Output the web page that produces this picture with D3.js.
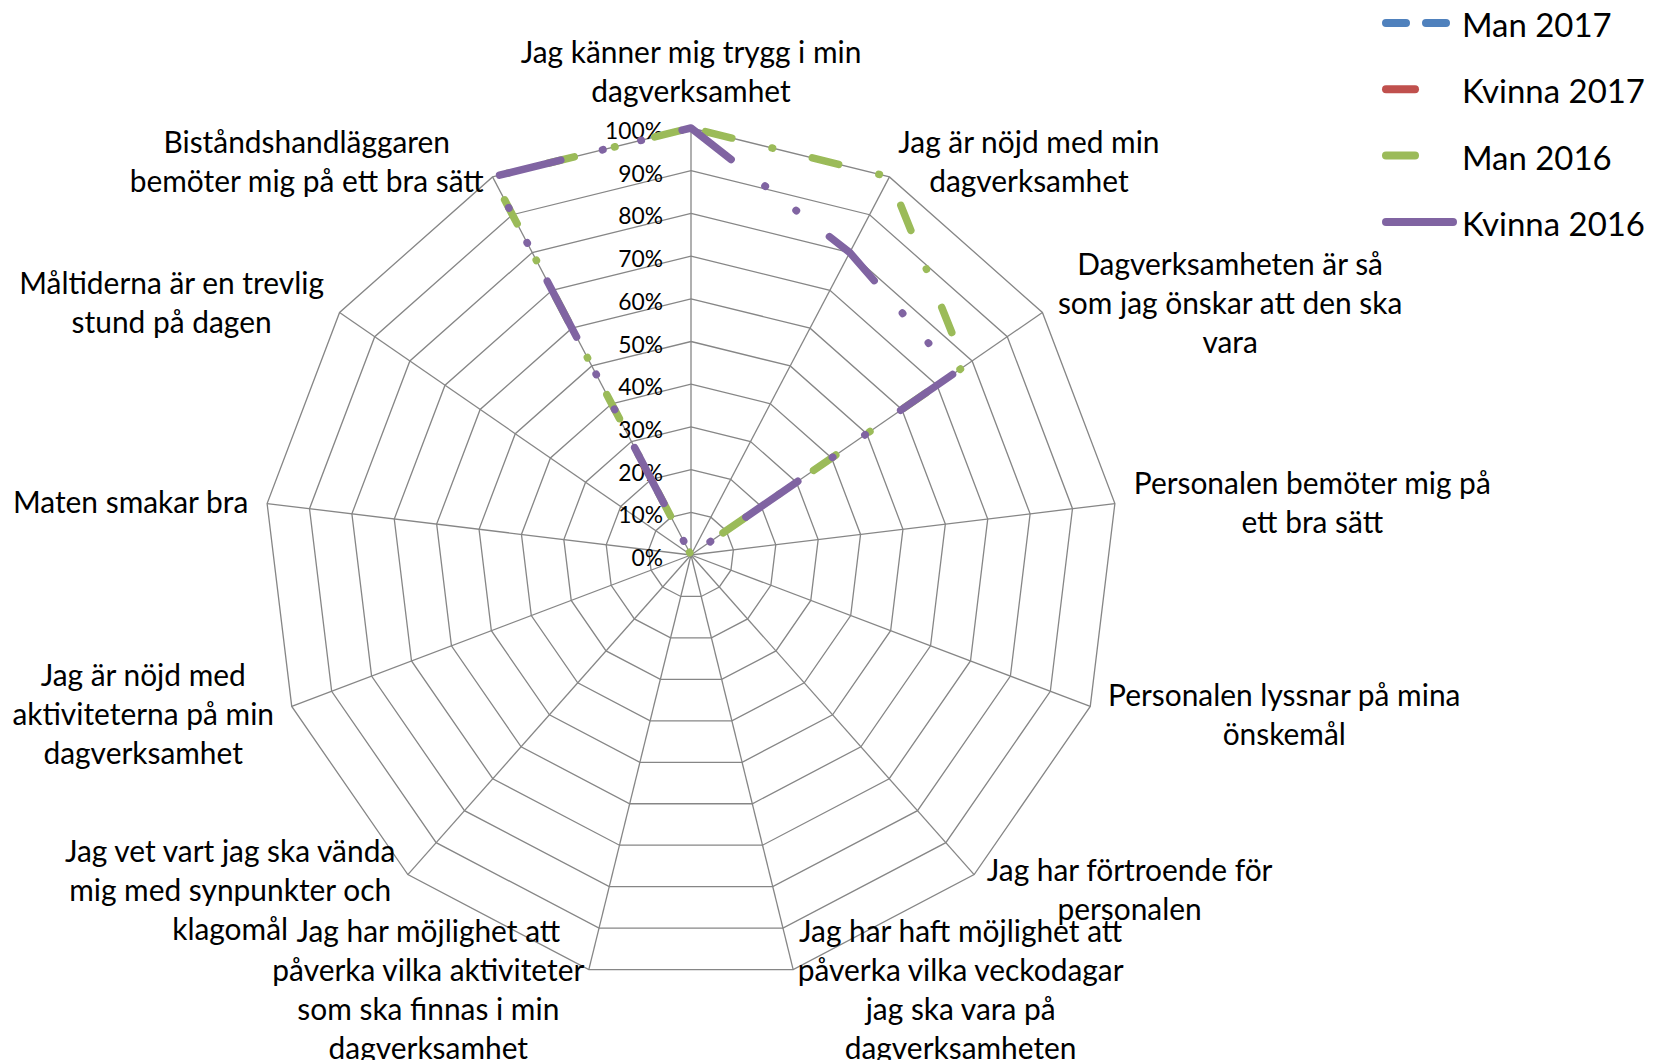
<!DOCTYPE html>
<html><head><meta charset="utf-8">
<script src="https://cdn.jsdelivr.net/npm/d3@7"></script>
<style>html,body{margin:0;padding:0;background:#fff;} svg{display:block;}</style>
</head><body>
<svg id="chart" width="1666" height="1060"></svg>
<script>
// ---------- DATA ----------
const categories = [
  "Jag känner mig trygg i min\ndagverksamhet",
  "Jag är nöjd med min\ndagverksamhet",
  "Dagverksamheten är så\nsom jag önskar att den ska\nvara",
  "Personalen bemöter mig på\nett bra sätt",
  "Personalen lyssnar på mina\nönskemål",
  "Jag har förtroende för\npersonalen",
  "Jag har haft möjlighet att\npåverka vilka veckodagar\njag ska vara på\ndagverksamheten",
  "Jag har möjlighet att\npåverka vilka aktiviteter\nsom ska finnas i min\ndagverksamhet",
  "Jag vet vart jag ska vända\nmig med synpunkter och\nklagomål",
  "Jag är nöjd med\naktiviteterna på min\ndagverksamhet",
  "Maten smakar bra",
  "Måltiderna är en trevlig\nstund på dagen",
  "Biståndshandläggaren\nbemöter mig på ett bra sätt"
];
const seriesNames = ["Man 2017", "Kvinna 2017", "Man 2016", "Kvinna 2016"];
const man2017    = [null, null, null, null, null, null, null, null, null, null, null, null, null];
const kvinna2017 = [null, null, null, null, null, null, null, null, null, null, null, null, null];
const man2016    = [100, 100, 78, 0, 0, 0, 0, 0, 0, 0, 0, 0, 100];
const kvinna2016 = [100, 80, 75, 0, 0, 0, 0, 0, 0, 0, 0, 0, 100];
const tickValues = [0, 10, 20, 30, 40, 50, 60, 70, 80, 90, 100];
const tickLabels = ["0%", "10%", "20%", "30%", "40%", "50%", "60%", "70%", "80%", "90%", "100%"];

// ---------- STYLE ----------
const colors = ["#4F81BD", "#C0504D", "#9BBB59", "#8064A2"];
const dashes = ["20 20", null, "27 41.5 0.5 41", "63 43 0.5 39 0.5 42"];
const dashOffsets = [0, 0, 95, 12];
const legendLen = [60, 29, 29, 67];
const legendDash = ["20 20", null, null, null];
const FONT = "Lato, 'Open Sans', sans-serif";

const svg = d3.select("#chart");
svg.append("rect").attr("width", 1666).attr("height", 1060).attr("fill", "#fff");

function fitSize(str, targetW) {
  const t = svg.append("text").attr("font-family", FONT).attr("font-size", 100).text(str);
  const w = t.node().getComputedTextLength();
  t.remove();
  return 100 * targetW / w;
}
const catSize = (fitSize("Jag känner mig trygg i min", 340) + fitSize("Maten smakar bra", 236)) / 2;
const tickSize = fitSize("100%", 58);
const legSize = fitSize("Kvinna 2016", 183);
const lineH = 39;

const cx = 691, cy = 555, R = 427;
const n = categories.length;
const step = 2 * Math.PI / n;
const r = d3.scaleLinear().domain([0, 100]).range([0, R]);
const g = svg.append("g").attr("transform", `translate(${cx},${cy})`);

// grid rings
const ring = d3.lineRadial().angle((d, i) => i * step).radius(d => r(d)).curve(d3.curveLinearClosed);
tickValues.filter(v => v > 0).forEach(v => {
  g.append("path").attr("d", ring(d3.range(n).map(() => v)))
    .attr("fill", "none").attr("stroke", "#868686").attr("stroke-width", 1.3);
});
// spokes
d3.range(n).forEach(i => {
  const a = i * step;
  g.append("line").attr("x1", 0).attr("y1", 0)
    .attr("x2", r(100) * Math.sin(a)).attr("y2", -r(100) * Math.cos(a))
    .attr("stroke", "#868686").attr("stroke-width", 1.3);
});

// tick labels
g.selectAll("text.tick").data(tickValues).enter().append("text")
  .attr("class", "tick")
  .attr("x", -28).attr("y", d => -r(d) + 2)
  .attr("text-anchor", "end").attr("dominant-baseline", "central")
  .attr("font-family", FONT).attr("font-size", tickSize).attr("fill", "#000")
  .text((d, i) => tickLabels[i]);

// series
const allSeries = [man2017, kvinna2017, man2016, kvinna2016];
const line = d3.lineRadial().angle((d, i) => i * step).radius(d => r(d))
  .defined(d => d !== null).curve(d3.curveLinearClosed);
allSeries.forEach((s, si) => {
  if (s.every(v => v === null)) return;
  g.append("path").attr("d", line(s))
    .attr("fill", "none").attr("stroke", colors[si]).attr("stroke-width", 7.5)
    .attr("stroke-linecap", "round").attr("stroke-linejoin", "round")
    .attr("stroke-dasharray", dashes[si]).attr("stroke-dashoffset", dashOffsets[si]);
});

// category labels
const gap = 19;
categories.forEach((c, i) => {
  const a = i * step;
  const s = Math.sin(a), co = Math.cos(a);
  const px = (R + gap) * s, py = -(R + gap) * co;
  const lines = c.split("\n");
  const t = g.append("text").attr("font-family", FONT).attr("font-size", catSize)
    .attr("fill", "#000").attr("text-anchor", "middle");
  const spans = lines.map(l => t.append("tspan").text(l));
  const w = d3.max(spans, sp => sp.node().getComputedTextLength());
  const h = lines.length * lineH;
  let bx, by;
  if (Math.abs(s) < 1e-6) { bx = px; by = py - h / 2; }
  else { bx = s > 0 ? px + w / 2 : px - w / 2; by = py; }
  spans.forEach((sp, j) => {
    sp.attr("x", bx).attr("y", by - h / 2 + lineH * (j + 0.5)).attr("dominant-baseline", "central");
  });
});

// legend
const leg = svg.append("g");
seriesNames.forEach((name, i) => {
  const y = 23 + i * 66.3;
  leg.append("line").attr("x1", 1386).attr("x2", 1386 + legendLen[i]).attr("y1", y).attr("y2", y)
    .attr("stroke", colors[i]).attr("stroke-width", 8).attr("stroke-linecap", "round")
    .attr("stroke-dasharray", legendDash[i]);
  leg.append("text").attr("x", 1462).attr("y", y + 1).attr("dominant-baseline", "central")
    .attr("font-family", FONT).attr("font-size", legSize).attr("fill", "#000").text(name);
});
</script>
</body></html>
